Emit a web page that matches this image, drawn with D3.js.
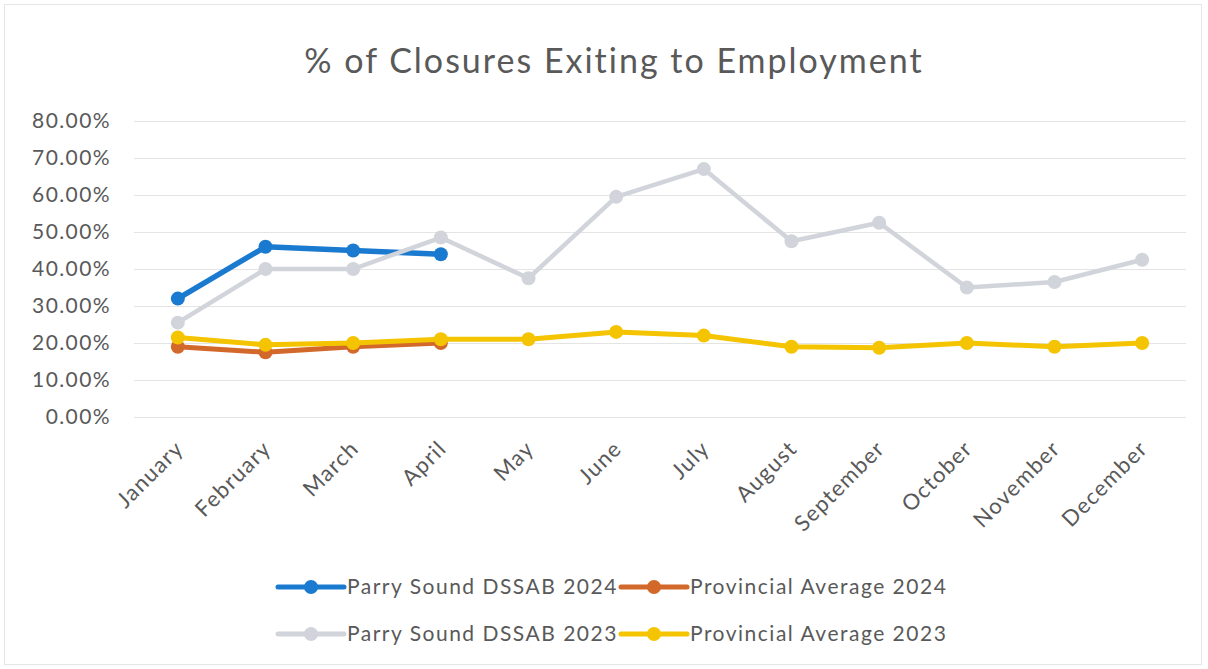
<!DOCTYPE html>
<html><head><meta charset="utf-8">
<script src="https://cdn.jsdelivr.net/npm/d3@7"></script>
<style>body{margin:0;background:#fff}svg{display:block}</style>
</head><body>
<svg id="c" width="1208" height="669"></svg>
<script>
const months = ["January","February","March","April","May","June","July","August","September","October","November","December"];
const parry2024 = [0.32, 0.46, 0.45, 0.44];
const prov2024 = [0.19, 0.175, 0.19, 0.20];
const parry2023 = [0.255, 0.40, 0.40, 0.485, 0.375, 0.595, 0.67, 0.475, 0.525, 0.35, 0.365, 0.425];
const prov2023 = [0.215, 0.195, 0.20, 0.21, 0.21, 0.23, 0.22, 0.19, 0.187, 0.20, 0.19, 0.20];
const yTicks = [0, 0.1, 0.2, 0.3, 0.4, 0.5, 0.6, 0.7, 0.8];
const seriesNames = ["Parry Sound DSSAB 2024","Provincial Average 2024","Parry Sound DSSAB 2023","Provincial Average 2023"];
const colors = ["#1a7ad0","#d2692a","#d1d4da","#f5c400"];
const title = "% of Closures Exiting to Employment";

const series = [parry2024, prov2024, parry2023, prov2023];
const widths = [5.5, 5, 4.5, 5];
const svg = d3.select("#c");
const font = "Lato, 'Open Sans', sans-serif";
const textColor = "#595959";

svg.append("rect").attr("x",4.5).attr("y",4.5).attr("width",1197).attr("height",660)
  .attr("fill","#fff").attr("stroke","#e6e6e6");

const x = d3.scaleBand().domain(months).range([134,1186]);
const y = d3.scaleLinear().domain([0,0.8]).range([417,121]);
const cx = m => x(m) + x.bandwidth()/2;

svg.append("text").attr("x",614).attr("y",73).attr("text-anchor","middle")
  .attr("font-family",font).attr("font-size",34).attr("fill",textColor).attr("letter-spacing",2)
  .text(title);

// grid
const yAxis = d3.axisLeft(y).tickValues(yTicks).tickFormat(d3.format(".2%")).tickSize(-(1186-134)).tickPadding(23);
const gy = svg.append("g").attr("transform","translate(134,0)").call(yAxis);
gy.select(".domain").remove();
gy.selectAll(".tick line").attr("stroke","#e4e4e4").attr("stroke-width",1.2);
gy.selectAll(".tick text").attr("font-family",font).attr("font-size",21).attr("letter-spacing",1.4).attr("fill",textColor);

// x axis labels
const xAxis = d3.axisBottom(x).tickSize(0).tickPadding(0);
const gx = svg.append("g").attr("transform","translate(0,417)").call(xAxis);
gx.select(".domain").remove();
gx.selectAll(".tick text").attr("font-family",font).attr("font-size",22).attr("letter-spacing",1.3).attr("fill",textColor)
  .attr("text-anchor","end").attr("dy",0).attr("y",0)
  .attr("transform","translate(7,33) rotate(-45)");

const line = d3.line().x((d,i)=>cx(months[i])).y(d=>y(d));
series.forEach((s,k)=>{
  const g = svg.append("g");
  g.append("path").datum(s).attr("d",line).attr("fill","none").attr("stroke",colors[k])
    .attr("stroke-width",widths[k]).attr("stroke-linejoin","round").attr("stroke-linecap","round");
  g.selectAll("circle").data(s).join("circle").attr("cx",(d,i)=>cx(months[i])).attr("cy",d=>y(d))
    .attr("r",7).attr("fill",colors[k]);
});

// legend
const legPos = [[278,587],[621,587],[278,634],[621,634]];
seriesNames.forEach((n,k)=>{
  const [lx,ly] = legPos[k];
  const g = svg.append("g");
  g.append("line").attr("x1",lx).attr("x2",lx+66).attr("y1",ly).attr("y2",ly)
    .attr("stroke",colors[k]).attr("stroke-width",5).attr("stroke-linecap","round");
  g.append("circle").attr("cx",lx+33).attr("cy",ly).attr("r",7).attr("fill",colors[k]);
  g.append("text").attr("x",lx+69).attr("y",ly+7).attr("font-family",font).attr("font-size",21)
    .attr("letter-spacing",1.5).attr("fill",textColor).text(n);
});
</script>
</body></html>
